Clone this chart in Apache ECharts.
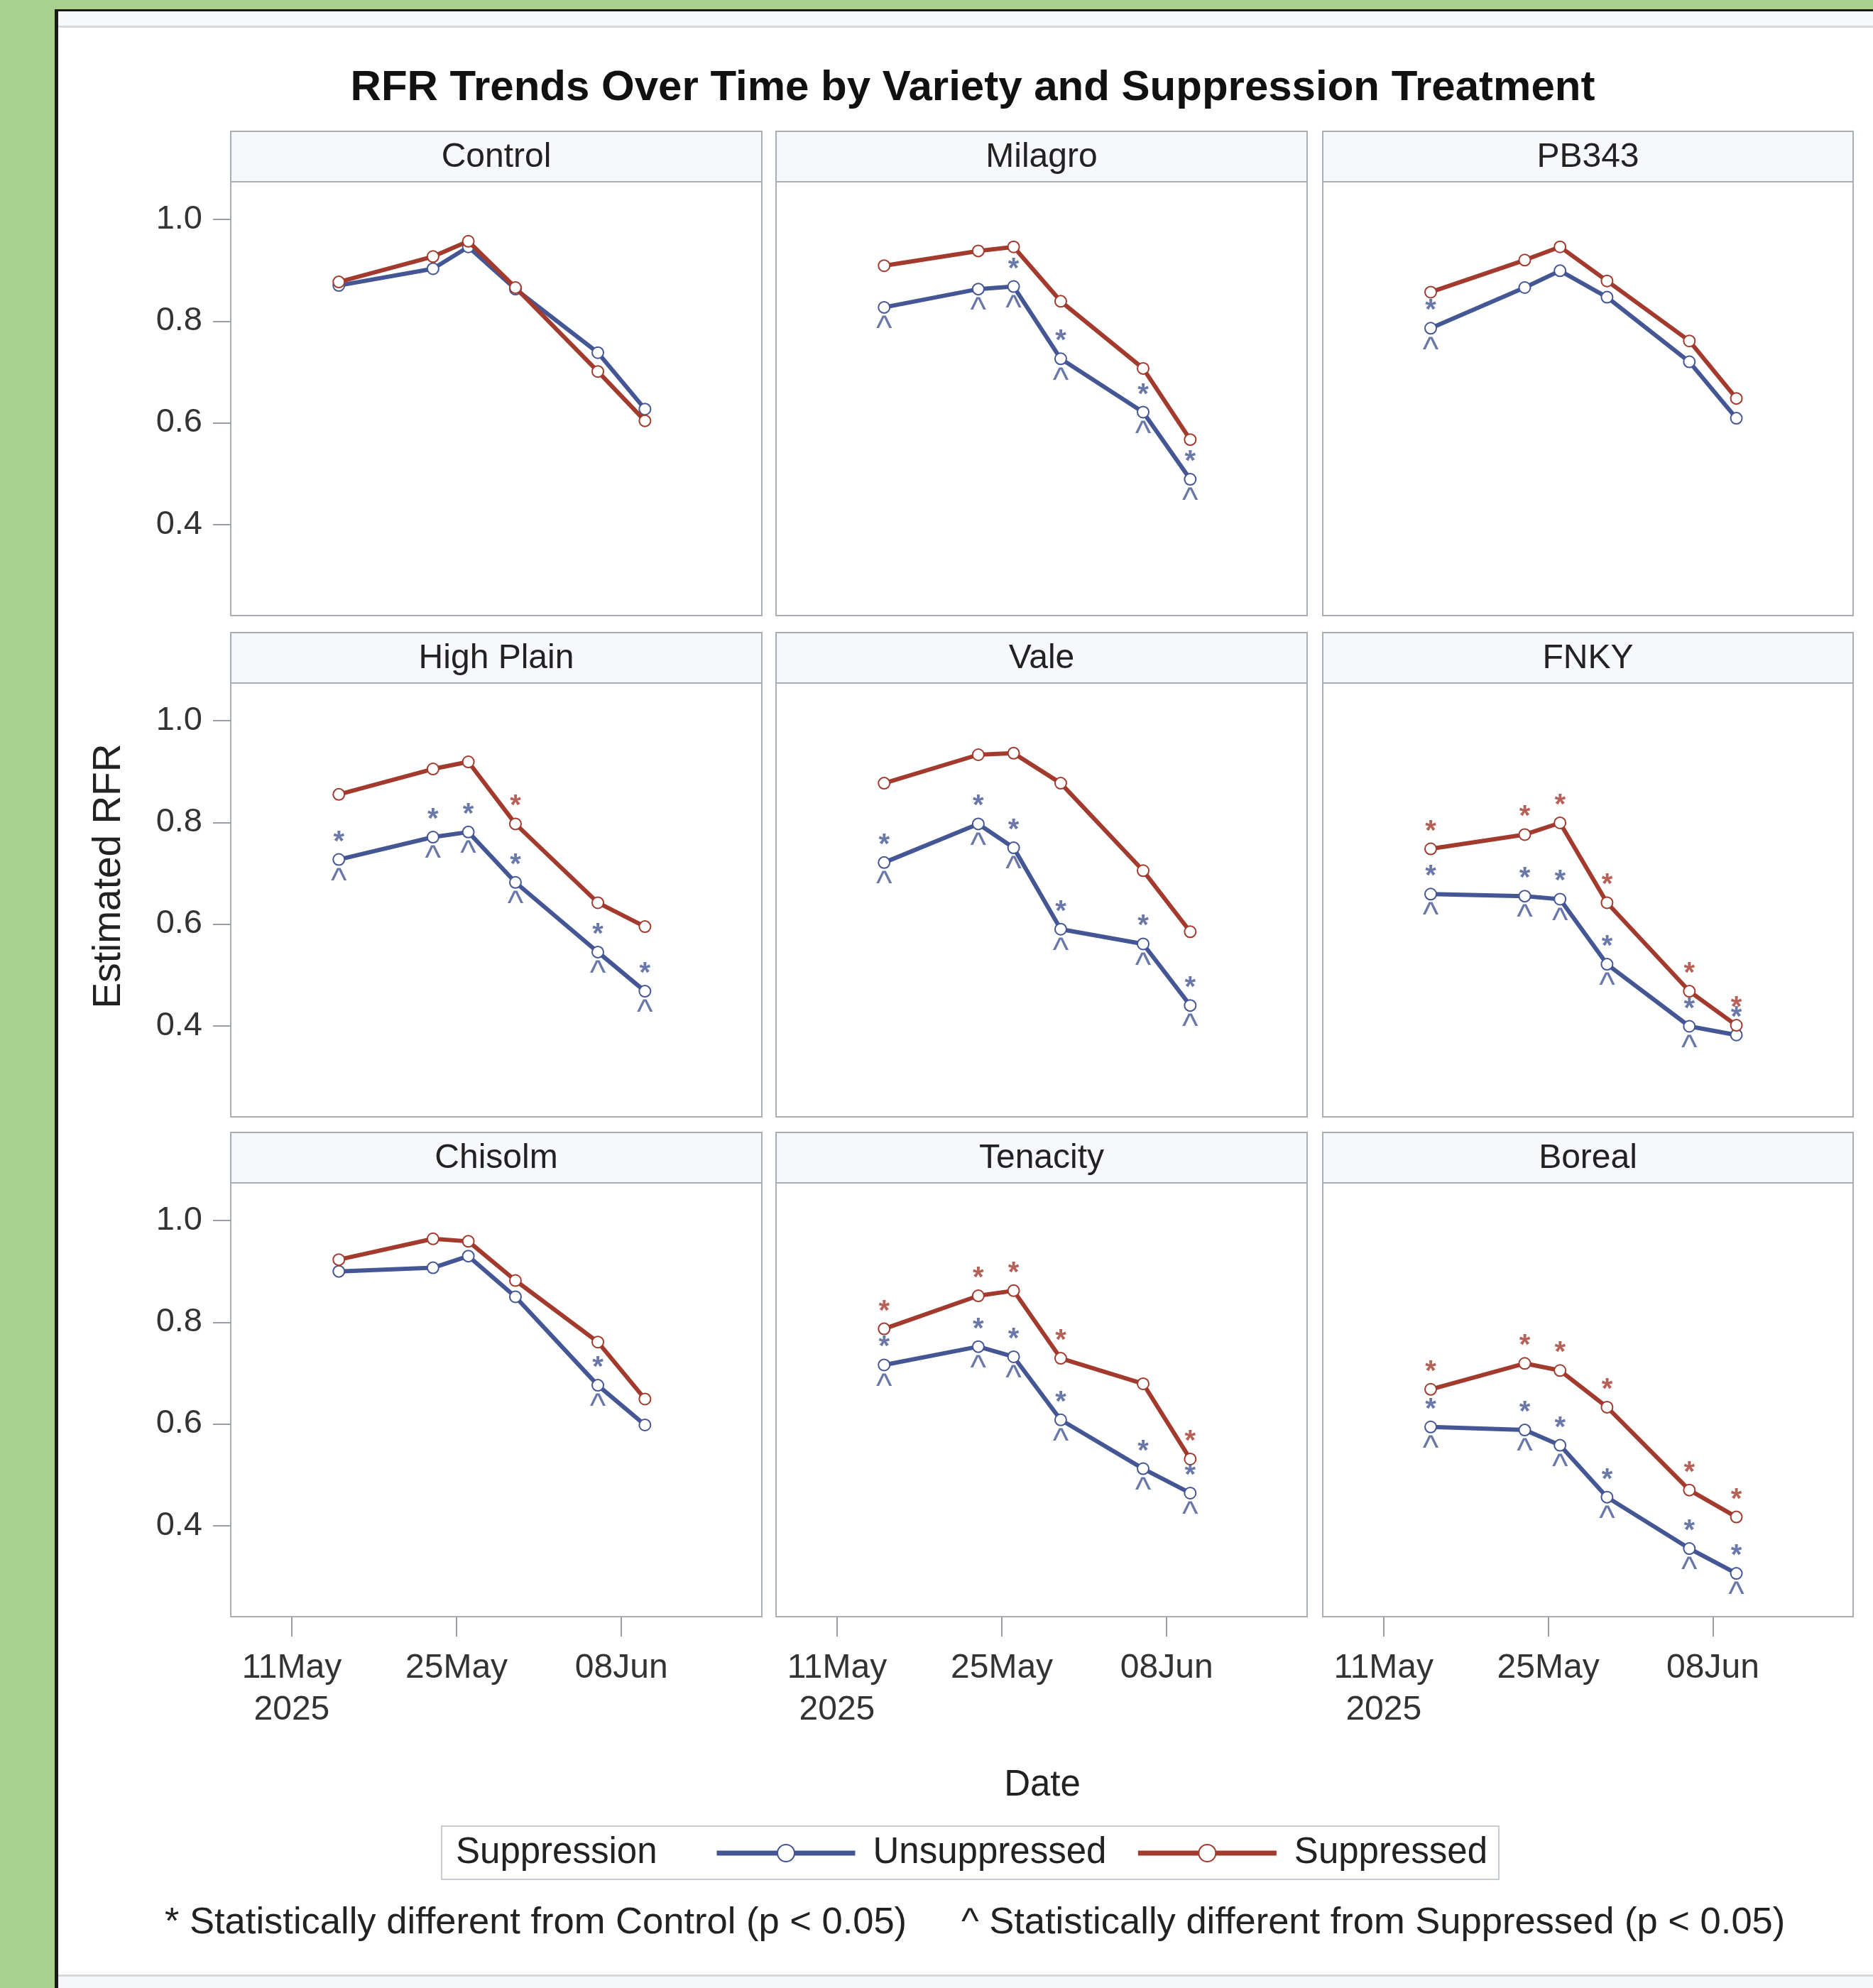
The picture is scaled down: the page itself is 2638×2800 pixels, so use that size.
<!DOCTYPE html>
<html><head><meta charset="utf-8">
<script src="https://cdn.jsdelivr.net/npm/echarts@6/dist/echarts.min.js"></script>
<style>html,body{margin:0;padding:0;background:#fff}#c{width:2638px;height:2800px}</style>
</head><body><div id="c"></div><script>
// ---------------- data ----------------
const dateStrings = ['2025-05-15','2025-05-23','2025-05-26','2025-05-30','2025-06-06','2025-06-10'];
const varieties = ['Control','Milagro','PB343','High Plain','Vale','FNKY','Chisolm','Tenacity','Boreal'];
const unsuppressedRFR = [
  [0.870,0.903,0.946,0.863,0.738,0.627],
  [0.827,0.863,0.868,0.726,0.621,0.489],
  [0.786,0.866,0.899,0.847,0.720,0.609],
  [0.727,0.771,0.781,0.682,0.545,0.468],
  [0.721,0.797,0.750,0.590,0.561,0.440],
  [0.659,0.655,0.649,0.521,0.399,0.382],
  [0.900,0.907,0.930,0.850,0.676,0.598],
  [0.716,0.752,0.732,0.608,0.512,0.464],
  [0.594,0.588,0.558,0.456,0.355,0.306]
];
const suppressedRFR = [
  [0.877,0.927,0.957,0.866,0.701,0.604],
  [0.909,0.938,0.946,0.839,0.707,0.567],
  [0.857,0.920,0.946,0.879,0.761,0.648],
  [0.855,0.905,0.919,0.797,0.642,0.595],
  [0.877,0.933,0.936,0.877,0.705,0.585],
  [0.748,0.776,0.799,0.642,0.468,0.401],
  [0.923,0.964,0.959,0.882,0.761,0.649],
  [0.787,0.852,0.862,0.729,0.679,0.531],
  [0.668,0.719,0.705,0.633,0.470,0.417]
];
// significance flags (one character per date, '1' = flagged)
const unsupDiffFromControl = ['000000','001111','100000','111111','111111','111111','000010','111111','111111'];
const supDiffFromControl   = ['000000','000000','000000','000100','000000','111111','000000','111101','111111'];
const unsupDiffFromSup     = ['000000','111111','100000','111111','111111','111110','000010','111111','111111'];
const yTickValues = [0.4, 0.6, 0.8, 1.0];
const xTickDates = ['2025-05-11','2025-05-25','2025-06-08'];
const seriesNames = ['Unsuppressed','Suppressed'];

// ---------------- layout / style ----------------
const BLUE = '#445694', RED = '#A23A2E';
const FONT = 'Liberation Sans, Arial, sans-serif';
const DAY = 86400000;
const dates = dateStrings.map(s => Date.parse(s));
const xTicks = xTickDates.map(s => Date.parse(s));
const xMin = xTicks[0] - 5.18 * DAY, xMax = xTicks[2] + 11.93 * DAY;
const yMin = 0.221, yMax = 1.074;
const colLeft = [325, 1093, 1863], colW = [748, 748, 747];
const rowTop = [256, 962, 1666], rowH = 611, headH = 71;
const MONTHS = ['Jan','Feb','Mar','Apr','May','Jun','Jul','Aug','Sep','Oct','Nov','Dec'];

const grids = [], xAxes = [], yAxes = [], series = [], graphics = [];

// background frame
graphics.push(
  {type:'rect', z:-20, shape:{x:0,y:0,width:2638,height:2800}, style:{fill:'#a9d18e'}},
  {type:'rect', z:-19, shape:{x:77,y:13,width:2561,height:2787}, style:{fill:'#1a1a1a'}},
  {type:'rect', z:-18, shape:{x:82,y:16,width:2556,height:2784}, style:{fill:'#ffffff'}},
  {type:'rect', z:-17, shape:{x:82,y:16,width:2556,height:20}, style:{fill:'#f8f9fb'}},
  {type:'rect', z:-17, shape:{x:82,y:36,width:2556,height:3}, style:{fill:'#d6d8dc'}},
  {type:'rect', z:-17, shape:{x:82,y:2781,width:2556,height:3}, style:{fill:'#d6d8dc'}},
  {type:'rect', z:-17, shape:{x:82,y:2784,width:2556,height:16}, style:{fill:'#f5f6f9'}}
);
// title
graphics.push({type:'text', z:5, x:1370, y:124, style:{text:'RFR Trends Over Time by Variety and Suppression Treatment',
  font:'bold 60px ' + FONT, fill:'#111', textAlign:'center', textVerticalAlign:'middle'}});
// axis titles
graphics.push({type:'text', z:5, x:154, y:1234, rotation:Math.PI/2, style:{text:'Estimated RFR',
  font:'55px ' + FONT, fill:'#222', textAlign:'center', textVerticalAlign:'middle'}});
graphics.push({type:'text', z:5, x:1468, y:2515, style:{text:'Date',
  font:'51px ' + FONT, fill:'#222', textAlign:'center', textVerticalAlign:'middle'}});
// legend frame + title
graphics.push({type:'rect', z:1, shape:{x:622,y:2572,width:1489,height:75}, style:{fill:'#fff', stroke:'#c9cdd2', lineWidth:2}});
graphics.push({type:'text', z:5, x:642, y:2610, style:{text:'Suppression', font:'51px ' + FONT, fill:'#222', textVerticalAlign:'middle'}});
// footnotes
graphics.push({type:'text', z:5, x:232, y:2709, style:{text:'* Statistically different from Control (p < 0.05)', font:'52.5px ' + FONT, fill:'#222', textVerticalAlign:'middle'}});
graphics.push({type:'text', z:5, x:1354, y:2709, style:{text:'^ Statistically different from Suppressed (p < 0.05)', font:'52.5px ' + FONT, fill:'#222', textVerticalAlign:'middle'}});

function flagged(values, flags) {
  const out = [];
  for (let k = 0; k < dates.length; k++) if (flags[k] === '1') out.push([dates[k], values[k]]);
  return out;
}
function markSeries(i, data, text, color, dy, size, weight) {
  return {type:'scatter', name: text + '-' + i, xAxisIndex:i, yAxisIndex:i, data, silent:true, z:4,
    symbol:'circle', symbolSize:1, itemStyle:{color:'rgba(0,0,0,0)'},
    label:{show:true, position:'inside', formatter:text, color, fontSize:size, fontWeight:weight, fontFamily:FONT, offset:[0, dy]}};
}

varieties.forEach((name, i) => {
  const r = Math.floor(i / 3), c = i % 3;
  const left = colLeft[c], top = rowTop[r], w = colW[c];
  grids.push({left, top, width:w, height:rowH, show:true, backgroundColor:'#fff', borderColor:'#a9aeb4', borderWidth:2});
  // header strip
  graphics.push({type:'rect', z:1, shape:{x:left, y:top - headH, width:w, height:headH},
    style:{fill:'#f7f8fc', stroke:'#a9aeb4', lineWidth:2}});
  graphics.push({type:'text', z:2, x:left + w / 2, y:top - headH / 2 + 1,
    style:{text:name, font:'48px ' + FONT, fill:'#222', textAlign:'center', textVerticalAlign:'middle'}});
  const bottomRow = r === 2, leftCol = c === 0;
  xAxes.push({gridIndex:i, type:'value', min:xMin, max:xMax,
    axisLine:{show:false}, splitLine:{show:false},
    axisTick:{show:bottomRow, customValues:xTicks, length:28, lineStyle:{color:'#9a9ea4', width:2}},
    axisLabel:{show:bottomRow, customValues:xTicks, fontSize:48, fontFamily:FONT, color:'#333', margin:43, lineHeight:59,
      formatter:(v) => {
        const d = new Date(v);
        const s = String(d.getUTCDate()).padStart(2,'0') + MONTHS[d.getUTCMonth()];
        return Math.abs(v - xTicks[0]) < 1000 ? s + '\n' + d.getUTCFullYear() : s;
      }}});
  yAxes.push({gridIndex:i, type:'value', min:yMin, max:yMax,
    axisLine:{show:false}, splitLine:{show:false},
    axisTick:{show:leftCol, customValues:yTickValues, length:25, lineStyle:{color:'#9a9ea4', width:2}},
    axisLabel:{show:leftCol, customValues:yTickValues, fontSize:47, fontFamily:FONT, color:'#333', margin:40,
      formatter:(v) => v.toFixed(1)}});
  [unsuppressedRFR[i], suppressedRFR[i]].forEach((vals, s) => {
    const color = s === 0 ? BLUE : RED;
    series.push({type:'line', name:seriesNames[s], xAxisIndex:i, yAxisIndex:i, z:3 + s * 0.1,
      data: dates.map((d, k) => [d, vals[k]]),
      symbol:'emptyCircle', symbolSize:16, color,
      lineStyle:{width:6, color}, itemStyle:{color, borderWidth:3}, silent:true});
  });
  series.push(markSeries(i, flagged(unsuppressedRFR[i], unsupDiffFromControl[i]), '*', BLUE, -24, 40, 'bold'));
  series.push(markSeries(i, flagged(suppressedRFR[i], supDiffFromControl[i]), '*', RED, -24, 40, 'bold'));
  series.push(markSeries(i, flagged(unsuppressedRFR[i], unsupDiffFromSup[i]), '^', BLUE, 32, 48, 'normal'));
});

const chart = echarts.init(document.getElementById('c'), null, {renderer:'canvas'});
chart.setOption({
  animation:false,
  backgroundColor:'#fff',
  grid:grids, xAxis:xAxes, yAxis:yAxes, series,
  graphic:{elements:graphics},
  legend:{data:seriesNames, left:1006, top:2580, itemWidth:195, itemHeight:30, itemGap:41, selectedMode:false,
    padding:0, lineStyle:{width:7}, itemStyle:{borderWidth:3},
    textStyle:{fontSize:51, fontFamily:FONT, color:'#222', padding:[0,0,0,20], lineHeight:60}}
});
</script></body></html>
